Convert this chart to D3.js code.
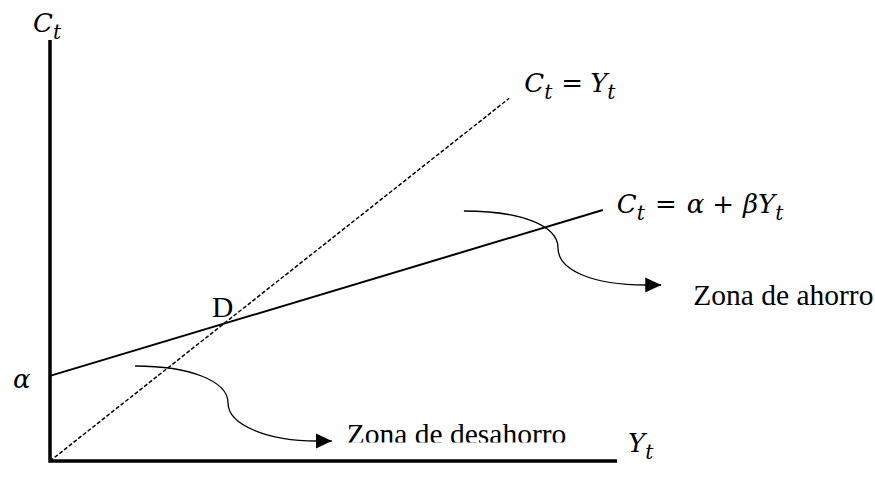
<!DOCTYPE html>
<html>
<head>
<meta charset="utf-8">
<script src="https://cdn.jsdelivr.net/npm/d3@7"></script>
<style>
  body { margin: 0; background: #fff; }
</style>
</head>
<body>
<div id="chart"></div>
<script>
// Keynesian consumption: C = alpha + beta*Y against the 45 degree line C = Y
const alpha = 19;
const beta = 0.38;
const incomeMax = 100;    // length of the Y axis
const consMax = 94;       // length of the C axis
const lineYend = 81;      // where C = Y stops
const consYend = 97.5;    // where the consumption line stops

// curved pointer arrows, data units: start, c1, c2, bend, c3, c4, end, tip
const savingArrow = [[73.0, 55.82], [82.9, 55.82], [89.6, 52.69], [89.6, 47.56],
                     [89.6, 42.65], [95.6, 39.3], [105.1, 39.3], [107.8, 39.3]];
const dissavingArrow = [[15.0, 21.21], [24.7, 21.21], [31.4, 17.86], [31.4, 12.95],
                        [31.4, 8.04], [38.4, 4.47], [47.1, 4.47], [49.7, 4.47]];

const width = 875, height = 479;
const mathFont = "'DejaVu Serif', serif";
const textFont = "'Liberation Serif', 'Times New Roman', serif";
const mathSize = 26;
const textSize = 29.5;

const svg = d3.select("#chart").append("svg")
    .attr("width", width)
    .attr("height", height);

const x = d3.scaleLinear().domain([0, incomeMax]).range([50, 617]);
const y = d3.scaleLinear().domain([0, consMax]).range([461, 40]);

// arrow head
svg.append("defs").append("marker")
    .attr("id", "head")
    .attr("markerUnits", "userSpaceOnUse")
    .attr("markerWidth", 17).attr("markerHeight", 16)
    .attr("refX", 16).attr("refY", 8)
    .attr("orient", "auto")
    .append("path")
    .attr("d", "M0,0.5 L16,8 L0,15.5 Z")
    .attr("fill", "#000");

// axes (no ticks)
svg.append("path")
    .attr("d", `M${x(0)},${y(consMax)} V${y(0)} H${x(incomeMax)}`)
    .attr("fill", "none")
    .attr("stroke", "#000")
    .attr("stroke-width", 3.5);

const line = d3.line().x(d => x(d[0])).y(d => y(d[1]));

// 45 degree line
svg.append("path")
    .attr("d", line([[0, 0], [lineYend, lineYend]]))
    .attr("fill", "none")
    .attr("stroke", "#000")
    .attr("stroke-width", 1.5)
    .attr("stroke-dasharray", "4,2");

// consumption function
svg.append("path")
    .attr("d", line([[0, alpha], [consYend, alpha + beta * consYend]]))
    .attr("fill", "none")
    .attr("stroke", "#000")
    .attr("stroke-width", 2);

// curved arrows
function curvedArrow(pts) {
    const p = pts.map(d => [x(d[0]), y(d[1])]);
    const path = d3.path();
    path.moveTo(...p[0]);
    path.bezierCurveTo(...p[1], ...p[2], ...p[3]);
    path.bezierCurveTo(...p[4], ...p[5], ...p[6]);
    path.lineTo(...p[7]);
    svg.append("path")
        .attr("d", path.toString())
        .attr("fill", "none")
        .attr("stroke", "#000")
        .attr("stroke-width", 1.3)
        .attr("marker-end", "url(#head)");
    return p[7];
}
const tipA = curvedArrow(savingArrow);
const tipB = curvedArrow(dissavingArrow);

// math labels built from tspans
function mathText(px, py, parts) {
    const sub = 7;
    const t = svg.append("text")
        .attr("x", px).attr("y", py)
        .attr("font-family", mathFont)
        .attr("font-size", mathSize);
    let shift = 0;
    parts.forEach(p => {
        const s = t.append("tspan").text(p.s)
            .attr("font-style", p.up ? "normal" : "italic");
        const target = p.sub ? sub : 0;
        if (target !== shift) s.attr("dy", target - shift);
        shift = target;
        if (p.sub) s.attr("font-size", mathSize * 0.78);
        if (p.dx) s.attr("dx", p.dx);
    });
}

mathText(x(0) - 17, y(consMax) - 8, [{ s: "C" }, { s: "t", sub: true }]);
mathText(x(incomeMax) + 11, y(0) - 9, [{ s: "Y" }, { s: "t", sub: true }]);
mathText(x(0) - 37, y(alpha) + 12, [{ s: "α" }]);

mathText(x(lineYend) + 15, y(lineYend) - 6,
    [{ s: "C" }, { s: "t", sub: true }, { s: "=", up: true, dx: 9 },
     { s: "Y", dx: 7 }, { s: "t", sub: true }]);

mathText(x(consYend) + 14, y(alpha + beta * consYend) + 3,
    [{ s: "C" }, { s: "t", sub: true }, { s: "=", up: true, dx: 10 },
     { s: "α", dx: 10 }, { s: "+", up: true, dx: 8 }, { s: "β", dx: 9 },
     { s: "Y" }, { s: "t", sub: true }]);

// intersection point D
const dY = alpha / (1 - beta);
svg.append("text")
    .attr("x", x(dY) - 1)
    .attr("y", y(dY) - 7)
    .attr("text-anchor", "middle")
    .attr("font-family", textFont)
    .attr("font-size", textSize)
    .text("D");

// zone labels
svg.append("text")
    .attr("x", tipA[0] + 32)
    .attr("y", tipA[1] + 20)
    .attr("font-family", textFont)
    .attr("font-size", textSize)
    .text("Zona de ahorro");

svg.append("clipPath").attr("id", "cut")
    .append("rect")
    .attr("x", 0).attr("y", 0)
    .attr("width", width).attr("height", tipB[1] + 1.5);

svg.append("text")
    .attr("x", tipB[0] + 15)
    .attr("y", tipB[1] + 3)
    .attr("clip-path", "url(#cut)")
    .attr("font-family", textFont)
    .attr("font-size", textSize)
    .text("Zona de desahorro");
</script>
</body>
</html>
